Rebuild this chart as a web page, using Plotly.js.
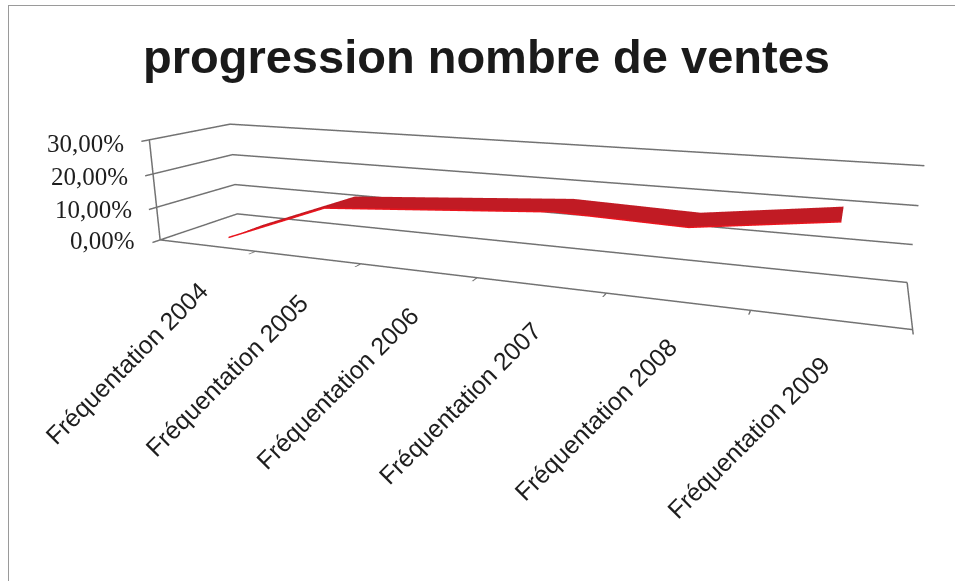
<!DOCTYPE html>
<html>
<head>
<meta charset="utf-8">
<script src="https://cdn.plot.ly/plotly-3.0.1.min.js"></script>
<style>
  html, body { margin: 0; padding: 0; width: 955px; height: 581px; overflow: hidden; background: #fff; }
  #chart { position: absolute; left: 0; top: -90px; width: 955px; height: 760px; }
  #frame { position: absolute; left: 8px; top: 5px; width: 1000px; height: 1000px; border: 1px solid #9a9a9a; pointer-events: none; }
</style>
</head>
<body>
<div id="chart"></div>
<div id="frame"></div>
<script>
// ---- data ----
const chartTitle = "progression nombre de ventes";
const categories = ["Fréquentation 2004", "Fréquentation 2005", "Fréquentation 2006",
                    "Fréquentation 2007", "Fréquentation 2008", "Fréquentation 2009"];
const growth = [0.0, 0.120, 0.144, 0.168, 0.159, 0.204];
const zTicks = [0, 0.1, 0.2, 0.3];

// ---- derived ----
const catPos = categories.map((c, i) => i + 0.5);
const boundaries = categories.map((c, i) => i).concat([categories.length]);
const fmtPct = v => (v * 100).toFixed(2).replace('.', ',') + '%';
const ribbonFront = 0.27, ribbonBack = 0.73;

const ribbon = {
  type: 'surface',
  x: catPos,
  y: [ribbonFront, ribbonBack],
  z: [growth, growth],
  colorscale: [[0, '#bd1720'], [1, '#bd1720']],
  showscale: false,
  hoverinfo: 'skip',
  lighting: { ambient: 0.8, diffuse: 0.4, specular: 0.05, roughness: 0.9, fresnel: 0 },
  lightposition: { x: 1000, y: -3000, z: 5000 }
};
const frontEdge = {
  type: 'scatter3d', mode: 'lines',
  x: catPos, y: catPos.map(() => ribbonFront), z: growth,
  line: { color: '#ea141d', width: 3 },
  hoverinfo: 'skip', showlegend: false
};

const lineGrey = '#727272';
const axisCommon = {
  showbackground: false, zeroline: false, showspikes: false,
  title: { text: '' }, showticklabels: false,
  linecolor: lineGrey, linewidth: 3
};

const catAnnotations = categories.map((c, i) => ({
  x: catPos[i], y: 0, z: 0, text: c, showarrow: false,
  textangle: -45, xanchor: 'right', yanchor: 'top',
  xshift: 9, yshift: -28,
  font: { family: 'Liberation Sans, Arial, sans-serif', size: 25, color: '#1e1e1e' }
}));
const valAnnotations = zTicks.map(v => ({
  x: 0, y: 0, z: v, text: fmtPct(v), showarrow: false,
  xanchor: 'right', yanchor: 'middle', xshift: -23, yshift: -1 - v * 10,
  font: { family: 'Liberation Serif, Times New Roman, serif', size: 25, color: '#1e1e1e' }
}));

const layout = {
  width: 955, height: 760,
  margin: { l: 0, r: 0, t: 0, b: 0 },
  paper_bgcolor: '#fff',
  showlegend: false,
  hovermode: false,
  title: {
    text: chartTitle,
    font: { family: 'Liberation Sans, Arial, sans-serif', size: 47, color: '#1a1a1a', weight: 700 },
    x: 0.5094, xanchor: 'center', xref: 'paper',
    y: 0.807, yanchor: 'middle', yref: 'container'
  },
  scene: {
    domain: { x: [0, 1], y: [0, 1] },
    aspectmode: 'manual',
    aspectratio: { x: 2.99, y: 0.55, z: 0.435 },
    camera: {
      eye: { x: 1.261, y: -3.333, z: 0.7825 },
      center: { x: -0.046, y: -0.161, z: -0.305 },
      up: { x: 0, y: 0, z: 1 },
      projection: { type: 'perspective' }
    },
    xaxis: Object.assign({}, axisCommon, {
      range: [0, categories.length], tickvals: boundaries, ticks: 'outside', ticklen: 14, tickwidth: 3,
      tickcolor: lineGrey, showgrid: false, showline: true
    }),
    yaxis: Object.assign({}, axisCommon, {
      range: [0, 1], ticks: '', showgrid: false, showline: true
    }),
    zaxis: Object.assign({}, axisCommon, {
      range: [0, 0.3], tickvals: zTicks, ticks: 'outside', ticklen: 8, tickwidth: 3, tickcolor: lineGrey,
      showgrid: true, gridcolor: lineGrey, gridwidth: 3, showline: true
    }),
    annotations: catAnnotations.concat(valAnnotations)
  }
};

Plotly.newPlot('chart', [ribbon, frontEdge], layout, { displayModeBar: false });
</script>
</body>
</html>
